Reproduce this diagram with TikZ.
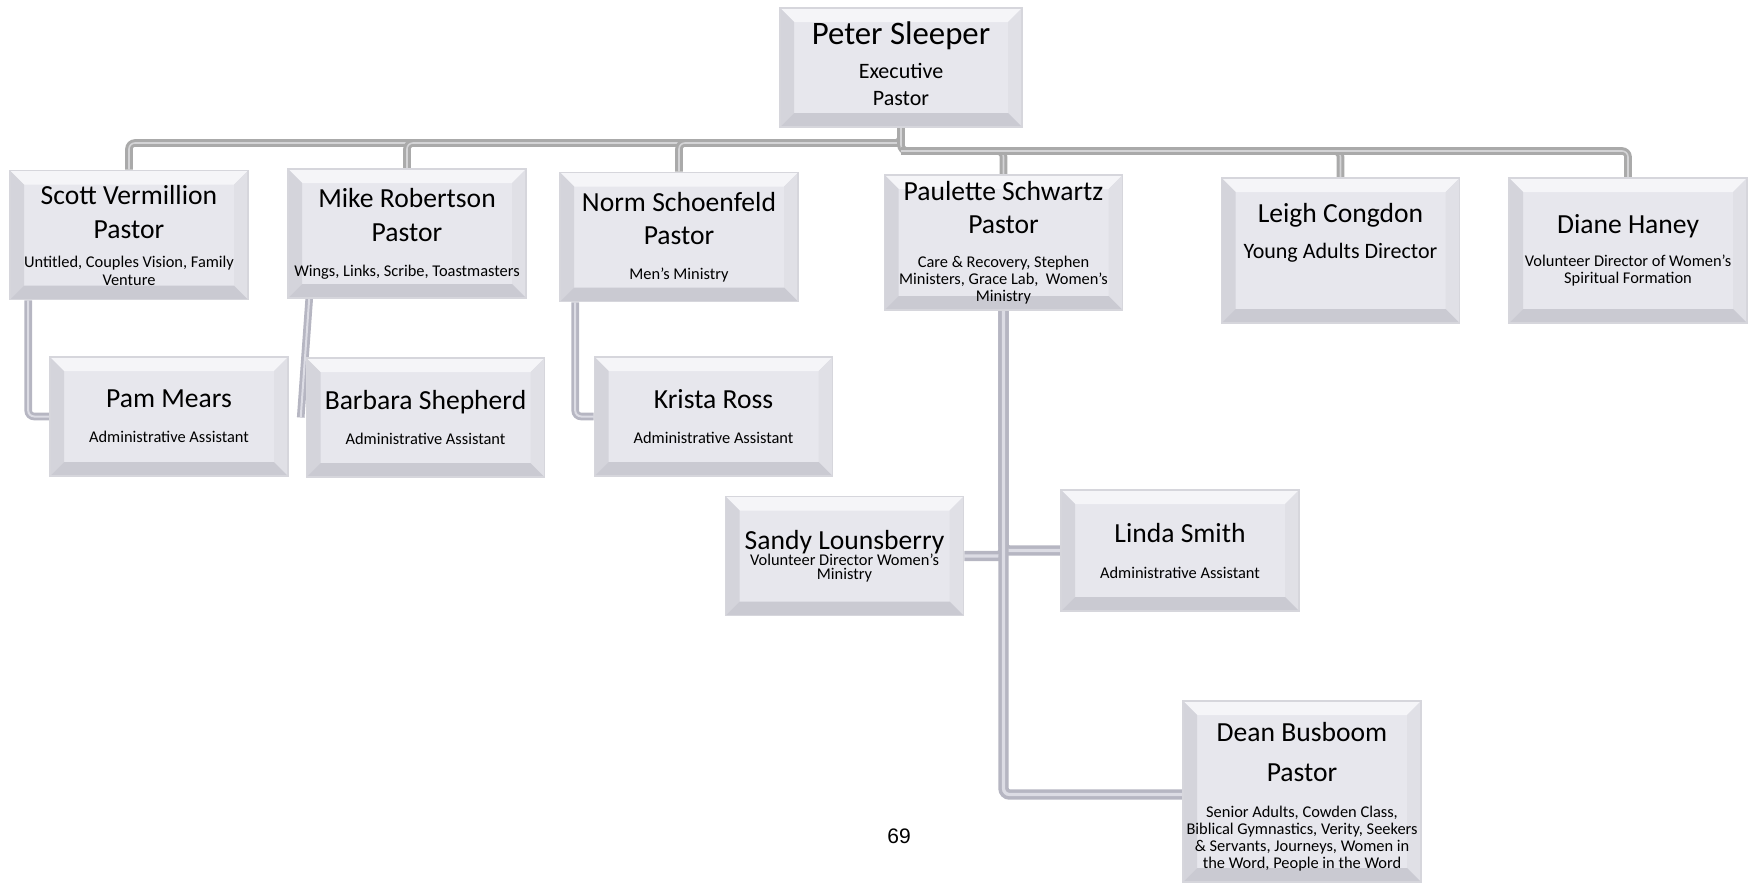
\documentclass[tikz,border=0pt]{standalone}
\usepackage{fontspec}
\setmainfont{Carlito}
\newfontfamily\pagefont{Liberation Sans}
\usepackage[HTML]{xcolor}
\usetikzlibrary{calc, backgrounds}

\definecolor{boxface}{HTML}{E7E7ED}
\definecolor{boxline}{HTML}{D6D6DC}
\definecolor{bevtop}{HTML}{F5F5F8}
\definecolor{bevleft}{HTML}{D4D4DB}
\definecolor{bevright}{HTML}{E0E0E6}
\definecolor{bevbottom}{HTML}{CACAD2}
\definecolor{busgray}{HTML}{AAAAAA}
\definecolor{busin}{HTML}{D4D4D6}
\definecolor{linkgray}{HTML}{B6B6C2}
\definecolor{linkin}{HTML}{DCDCE4}

% line distances are set by hand with \\[..]
\newcommand{\noteft}{\fontsize{8.2}{0}\selectfont\lineskiplimit=-100pt\relax}
\newcommand{\bignameft}{\fontsize{16.4}{0}\selectfont}
\newcommand{\nameft}{\fontsize{13.8}{0}\selectfont}
\newcommand{\roleft}{\fontsize{11}{0}\selectfont}

\begin{document}
\begin{tikzpicture}[x=0.5pt, y=-0.5pt,
  person/.style={draw=boxline, line width=0.8pt, fill=boxface, align=center,
    inner sep=0pt, minimum width=119pt, font=\noteft,
    path picture={
      \path (path picture bounding box.north west) coordinate (bnw)
            (path picture bounding box.north east) coordinate (bne)
            (path picture bounding box.south west) coordinate (bsw)
            (path picture bounding box.south east) coordinate (bse);
      \fill[bevtop] (bnw) -- (bne) -- ($(bne)+(-7pt,-7pt)$) -- ($(bnw)+(7pt,-7pt)$) -- cycle;
      \fill[bevleft] (bnw) -- ($(bnw)+(7pt,-7pt)$) -- ($(bsw)+(7pt,7pt)$) -- (bsw) -- cycle;
      \fill[bevright] (bne) -- (bse) -- ($(bse)+(-7pt,7pt)$) -- ($(bne)+(-7pt,-7pt)$) -- cycle;
      \fill[bevbottom] (bsw) -- (bse) -- ($(bse)+(-7pt,7pt)$) -- ($(bsw)+(7pt,7pt)$) -- cycle;
    }},
  pastorbox/.style={person, minimum height=64.5pt},
  staffbox/.style={person, minimum height=59.5pt},
  bus/.style={draw=busgray, line width=1.5pt, double=busin, double distance=0.8pt, rounded corners=3pt},
  link/.style={draw=linkgray, line width=1.8pt, double=linkin, double distance=1.6pt, rounded corners=3pt}]
\useasboundingbox (0,0) rectangle (1748,884);

% executive pastor
\node[person, minimum width=121pt, minimum height=59.5pt] (peter) at (901,67.5)
  {{\bignameft Peter Sleeper}\\[17pt]{\roleft Executive}\\[13.5pt]{\roleft Pastor}\\[3.4pt]{}};

% pastors and directors
\node[pastorbox] (scott) at (129,235)
  {{\nameft Scott Vermillion}\\[17pt]{\nameft Pastor}\\[14.5pt]Untitled, Couples Vision, Family\\[9pt]Venture};
\node[pastorbox] (mike) at (407,233.5)
  {{\nameft Mike Robertson}\\[17pt]{\nameft Pastor}\\[17.5pt]Wings, Links, Scribe, Toastmasters};
\node[pastorbox] (norm) at (679,237)
  {{\nameft Norm Schoenfeld}\\[16.5pt]{\nameft Pastor}\\[17.5pt]Men's Ministry};
\node[person, minimum height=67.5pt] (paulette) at (1003.5,242.5)
  {{\nameft Paulette Schwartz}\\[16.5pt]{\nameft Pastor}\\[17pt]Care \& Recovery, Stephen\\[8.5pt]Ministers, Grace Lab,~ Women's\\[8.5pt]Ministry};
\node[person, minimum height=72.5pt] (leigh) at (1340.5,250.5)
  {{\nameft Leigh Congdon}\\[18pt]{\roleft Young Adults Director}\\[20pt]{}};
\node[person, minimum height=72.5pt] (diane) at (1628,250.5)
  {{\nameft Diane Haney}\\[16.5pt]Volunteer Director of Women's\\[8.5pt]Spiritual Formation};

% assistants
\node[staffbox] (pam) at (169,416.5)
  {{\nameft Pam Mears}\\[17.5pt]Administrative Assistant};
\node[staffbox] (barbara) at (425.5,417.5)
  {{\nameft Barbara Shepherd}\\[17.5pt]Administrative Assistant};
\node[staffbox] (krista) at (713.5,416.5)
  {{\nameft Krista Ross}\\[17.5pt]Administrative Assistant};
\node[staffbox] (sandy) at (844.5,556)
  {{\nameft Sandy Lounsberry}\\[8pt]Volunteer Director Women's\\[6.8pt]Ministry};
\node[person, minimum height=60.5pt] (linda) at (1180,550.5)
  {{\nameft Linda Smith}\\[18pt]Administrative Assistant};
\node[person, minimum height=90.5pt] (dean) at (1302,791.5)
  {{}\\[15pt]{\nameft Dean Busboom}\\[20pt]{\nameft Pastor}\\[18pt]Senior Adults, Cowden Class,\\[8.6pt]Biblical Gymnastics, Verity, Seekers\\[8.6pt]\& Servants, Journeys, Women in\\[8.6pt]the Word, People in the Word};

\node[font=\pagefont\fontsize{10.5}{12}\selectfont] (pagenum) at (899,836) {69};

% connectors
\begin{scope}[on background layer]
\coordinate (lbus) at (901,143);
\coordinate (rbus) at (901,151);
\draw[bus] (peter.south) -- (lbus) -| (scott.north);
\draw[bus] (lbus) -| (mike.north);
\draw[bus] (lbus) -| (norm.north);
\draw[bus] (peter.south) -- (rbus) -| (paulette.north);
\draw[bus] (rbus) -| (leigh.north);
\draw[bus] (rbus) -| (diane.north);

\draw[link, line width=1.4pt, double distance=1pt] ($(scott.south west)+(19,0)$) |- (pam.west);
\draw[link, line width=1.4pt, double distance=1pt] ($(mike.south west)+(22,0)$) -- ($(barbara.west)+(-5,0)$);
\draw[link, line width=1.4pt, double distance=1pt] ($(norm.south west)+(16,0)$) |- (krista.west);
\draw[link] (paulette.south) |- (sandy.east);
\draw[link] (paulette.south) |- (linda.west);
\draw[link] (paulette.south) |- ($(dean.west)+(0,3)$);
\end{scope}
\end{tikzpicture}
\end{document}
